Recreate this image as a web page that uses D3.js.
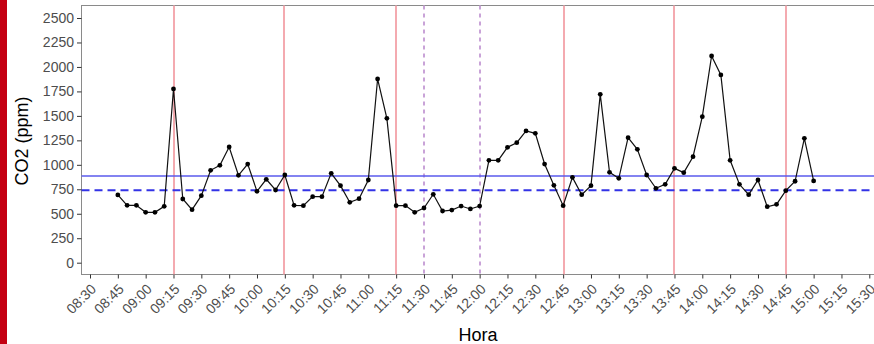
<!DOCTYPE html>
<html>
<head>
<meta charset="utf-8">
<script src="https://cdn.jsdelivr.net/npm/d3@7"></script>
<style>
  body { margin: 0; background: #fff; }
  svg { display: block; font-family: "Liberation Sans", Arial, sans-serif; }
</style>
</head>
<body>
<svg width="874" height="344"></svg>
<script>
// CO2 readings every 5 minutes
const times = [
  '08:45','08:50','08:55',
  '09:00','09:05','09:10','09:15','09:20','09:25','09:30','09:35','09:40','09:45','09:50','09:55',
  '10:00','10:05','10:10','10:15','10:20','10:25','10:30','10:35','10:40','10:45','10:50','10:55',
  '11:00','11:05','11:10','11:15','11:20','11:25','11:30','11:35','11:40','11:45','11:50','11:55',
  '12:00','12:05','12:10','12:15','12:20','12:25','12:30','12:35','12:40','12:45','12:50','12:55',
  '13:00','13:05','13:10','13:15','13:20','13:25','13:30','13:35','13:40','13:45','13:50','13:55',
  '14:00','14:05','14:10','14:15','14:20','14:25','14:30','14:35','14:40','14:45','14:50','14:55',
  '15:00'
];
const co2 = [
  692, 586, 586,
  515, 515, 576, 1775, 651, 542, 685, 944, 995, 1182, 893, 1008,
  729, 852, 743, 896, 586, 583, 675, 675, 913, 787, 617, 654,
  845, 1877, 1475, 583, 583, 515, 559, 699, 528, 538, 579, 549,
  579, 1046, 1046, 1179, 1226, 1346, 1322, 1008, 791, 583, 872, 695,
  787, 1720, 923, 862, 1277, 1158, 896, 760, 801, 964, 920, 1083,
  1492, 2112, 1918, 1046, 801, 695, 845, 572, 596, 736, 832, 1271,
  835
];
const xTicks = ['08:30','08:45','09:00','09:15','09:30','09:45','10:00','10:15','10:30','10:45',
  '11:00','11:15','11:30','11:45','12:00','12:15','12:30','12:45','13:00','13:15','13:30','13:45',
  '14:00','14:15','14:30','14:45','15:00','15:15','15:30'];
const yTicks = [0, 250, 500, 750, 1000, 1250, 1500, 1750, 2000, 2250, 2500];
const redLines = ['09:15', '10:15', '11:15', '12:45', '13:45', '14:45'];
const purpleLines = ['11:30', '12:00'];
const meanLine = 886;
const dashedLine = 740;

const svg = d3.select('svg');
const parse = d3.timeParse('%H:%M');

const panel = { l: 81.5, t: 5.5, r: 880, b: 274.5 };

const x = d3.scaleTime()
  .domain([parse('08:30'), parse('15:30')])
  .range([90, 869.3]);
const y = d3.scaleLinear()
  .domain([0, 2500])
  .range([262.7, 18]);
// even pixel column, so a 2px line covers a whole chroma block
const even = v => Math.round(v / 2) * 2;

// stray red strip on the left edge of the reference
svg.append('rect').attr('x', 0).attr('y', 0).attr('width', 7).attr('height', 344).attr('fill', '#c40012');

// panel
svg.append('rect')
  .attr('x', panel.l).attr('y', panel.t)
  .attr('width', panel.r - panel.l).attr('height', panel.b - panel.t)
  .attr('fill', '#fff').attr('stroke', '#8a8a8a').attr('stroke-width', 1);

// vertical markers
svg.selectAll('.vred').data(redLines).enter().append('line')
  .attr('class', 'vred')
  .attr('x1', d => even(x(parse(d)))).attr('x2', d => even(x(parse(d))))
  .attr('y1', panel.t).attr('y2', panel.b)
  .attr('stroke', '#f4aab0').attr('stroke-width', 2);
svg.selectAll('.vpurple').data(purpleLines).enter().append('line')
  .attr('class', 'vpurple')
  .attr('x1', d => even(x(parse(d)))).attr('x2', d => even(x(parse(d))))
  .attr('y1', panel.t).attr('y2', panel.b)
  .attr('stroke', '#c9a3d8').attr('stroke-width', 2).attr('stroke-dasharray', '4,4');

// reference lines
svg.append('line')
  .attr('x1', panel.l).attr('x2', panel.r)
  .attr('y1', y(meanLine)).attr('y2', y(meanLine))
  .attr('stroke', '#5a5aec').attr('stroke-width', 1.4);
svg.append('line')
  .attr('x1', panel.l).attr('x2', panel.r)
  .attr('y1', y(dashedLine)).attr('y2', y(dashedLine))
  .attr('stroke', '#3333e6').attr('stroke-width', 2).attr('stroke-dasharray', '8,5');

// series
const data = times.map((t, i) => ({ t: parse(t), v: co2[i] }));
svg.append('path')
  .datum(data)
  .attr('fill', 'none').attr('stroke', '#111').attr('stroke-width', 1.2)
  .attr('d', d3.line().x(d => x(d.t)).y(d => y(d.v)));
svg.selectAll('.pt').data(data).enter().append('circle')
  .attr('class', 'pt')
  .attr('cx', d => x(d.t)).attr('cy', d => y(d.v)).attr('r', 2.4)
  .attr('fill', '#000');

// y axis
const yAxis = d3.axisLeft(y).tickValues(yTicks).tickFormat(d3.format('d'))
  .tickSize(4.5).tickPadding(3).tickSizeOuter(0);
const gy = svg.append('g').attr('transform', `translate(${panel.l},0)`).call(yAxis);
gy.select('.domain').remove();
gy.selectAll('line').attr('stroke', '#333');
gy.selectAll('text').attr('fill', '#4d4d4d').style('font-size', '14px');

// x axis
const xAxis = d3.axisBottom(x).tickValues(xTicks.map(parse)).tickSize(4).tickFormat('');
const gx = svg.append('g').attr('transform', `translate(0,${panel.b})`).call(xAxis);
gx.select('.domain').remove();
gx.selectAll('line').attr('stroke', '#333');
svg.selectAll('.xlab').data(xTicks).enter().append('text')
  .attr('class', 'xlab')
  .attr('transform', d => `translate(${x(parse(d)) + 7},290) rotate(-45)`)
  .attr('text-anchor', 'end')
  .attr('fill', '#4d4d4d').style('font-size', '14px')
  .text(d => d);

// axis titles
svg.append('text')
  .attr('x', 478).attr('y', 341).attr('text-anchor', 'middle')
  .style('font-size', '18px').attr('fill', '#000')
  .text('Hora');
svg.append('text')
  .attr('transform', 'translate(28,141) rotate(-90)').attr('text-anchor', 'middle')
  .style('font-size', '18px').attr('fill', '#000')
  .text('CO2 (ppm)');
</script>
</body>
</html>
